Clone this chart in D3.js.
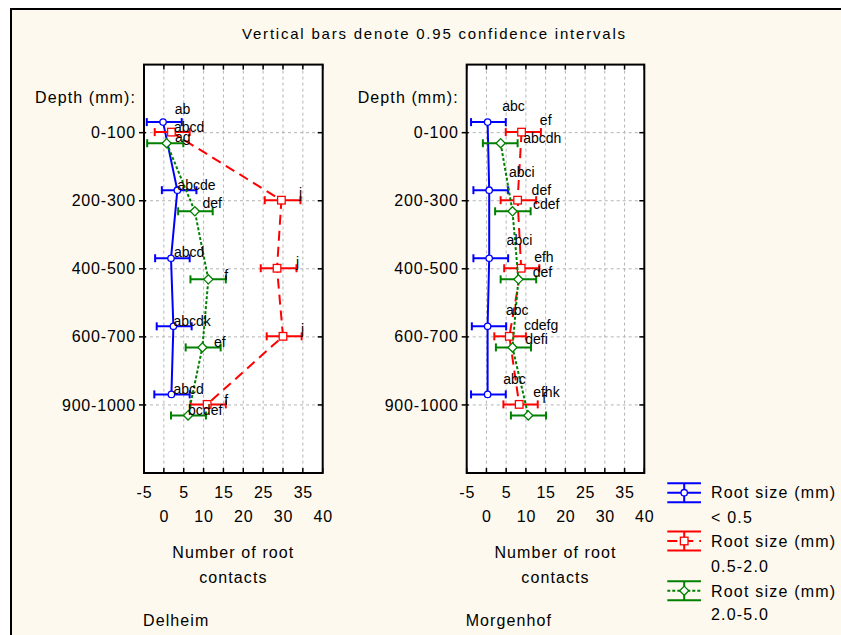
<!DOCTYPE html>
<html><head><meta charset="utf-8">
<script src="https://cdn.jsdelivr.net/npm/d3@7/dist/d3.min.js"></script>
<style>
html,body{margin:0;padding:0;background:#ffffff;}
svg{display:block;}
text{font-family:"Liberation Sans",Arial,sans-serif;fill:#000;}
</style></head>
<body>
<svg id="chart" width="841" height="635"></svg>
<script>
// ---------- data ----------
const titleText = "Vertical bars denote 0.95 confidence intervals";
const depths = ["0-100", "200-300", "400-500", "600-700", "900-1000"];
const depthTitle = "Depth (mm):";
const xTicks = [-5, 0, 5, 10, 15, 20, 25, 30, 35, 40];
const xTitle = ["Number of root", "contacts"];
const sites = ["Delheim", "Morgenhof"];
const legendLine1 = ["Root size (mm)", "Root size (mm)", "Root size (mm)"];
const legendLine2 = ["< 0.5", "0.5-2.0", "2.0-5.0"];

// Delheim
const delBlueMean  = [-0.2, 3.4, 1.8, 2.4, 1.9];
const delBlueLo    = [-4.3, -0.5, -2.2, -1.8, -2.4];
const delBlueHi    = [4.5, 8.2, 6.5, 7.0, 6.5];
const delRedMean   = [1.9, 29.6, 28.5, 30.0, 10.9];
const delRedLo     = [-2.3, 25.4, 24.4, 25.9, 6.7];
const delRedHi     = [6.5, 34.4, 33.4, 34.7, 15.6];
const delGreenMean = [0.7, 7.8, 11.2, 9.7, 6.1];
const delGreenLo   = [-4.2, 3.6, 6.7, 5.5, 1.8];
const delGreenHi   = [4.9, 12.3, 15.6, 14.3, 10.6];
const delBlueLbl   = ["ab", "abcde", "abcd", "abcdk", "abcd"];
const delRedLbl    = ["abcd", "j", "j", "j", "f"];
const delGreenLbl  = ["ag", "def", "f", "ef", "bcdef"];

// Morgenhof
const morBlueMean  = [0.3, 0.7, 0.7, 0.3, 0.3];
const morBlueLo    = [-3.9, -3.3, -3.3, -3.7, -3.9];
const morBlueHi    = [4.9, 5.5, 5.5, 5.0, 4.9];
const morRedMean   = [8.9, 7.9, 8.8, 5.8, 8.3];
const morRedLo     = [4.9, 3.6, 4.5, 2.0, 4.3];
const morRedHi     = [13.8, 12.6, 13.4, 10.0, 13.0];
const morGreenMean = [3.6, 6.6, 8.1, 6.6, 10.6];
const morGreenLo   = [-0.9, 2.2, 3.6, 2.4, 6.2];
const morGreenHi   = [7.9, 11.2, 12.6, 11.3, 15.1];
const morBlueLbl   = ["abc", "abci", "abci", "abc", "abc"];
const morRedLbl    = ["ef", "def", "efh", "cdefg", "efhk"];
const morGreenLbl  = ["abcdh", "cdef", "def", "defi", "f"];

// ---------- layout (pixels, styles) ----------
const colors = ["#0000ff", "#ff0000", "#008000"];
const dashes = [null, "10,6", "3,2"];
const labelOffsets = [
  [ [[11.7,-8],[0,0],[3,-1],[0,0],[2,0]],
    [[2.6,0],[17.6,-2],[19,-1],[18,-2],[17,1]],
    [[8.3,-1],[7.7,-3],[16,1],[11.6,0],[0,0]] ],
  [ [[14.6,-11.6],[19.7,-12.7],[17.4,-13.3],[18.3,-11],[15.6,-10]],
    [[18.3,-7.3],[14,-5],[13,-6.6],[14.7,-6.7],[14,-7.3]],
    [[22.6,0],[20.4,-2.7],[14.4,-2.6],[12.7,-3.3],[14,-12]] ]
];
const panelsX = [[144, 322.7], [466.7, 644.3]];
const plotTop = 64.6, plotBottom = 473;

const panelData = [
  [ {mean: delBlueMean, lo: delBlueLo, hi: delBlueHi, lbl: delBlueLbl},
    {mean: delRedMean, lo: delRedLo, hi: delRedHi, lbl: delRedLbl},
    {mean: delGreenMean, lo: delGreenLo, hi: delGreenHi, lbl: delGreenLbl} ],
  [ {mean: morBlueMean, lo: morBlueLo, hi: morBlueHi, lbl: morBlueLbl},
    {mean: morRedMean, lo: morRedLo, hi: morRedHi, lbl: morRedLbl},
    {mean: morGreenMean, lo: morGreenLo, hi: morGreenHi, lbl: morGreenLbl} ]
];

const svg = d3.select("#chart");
svg.append("rect").attr("x", 11).attr("y", 9).attr("width", 840).attr("height", 640)
  .attr("fill", "#fdf9ee").attr("stroke", "#000").attr("stroke-width", 2);

svg.append("text").attr("x", 433.5).attr("y", 38.5).attr("text-anchor", "middle")
  .attr("font-size", 15).attr("textLength", 383).attr("lengthAdjust", "spacing")
  .text(titleText);

const y = d3.scaleLinear().domain([-1, 5]).range([plotTop, plotBottom]);
const seriesShift = [-0.155, -0.008, 0.155];

function drawMarker(g, s, cx, cy) {
  if (s === 0) {
    g.append("circle").attr("cx", cx).attr("cy", cy).attr("r", 3.2)
      .attr("fill", "#fff").attr("stroke", colors[s]).attr("stroke-width", 1.3);
  } else if (s === 1) {
    g.append("rect").attr("x", cx - 3.8).attr("y", cy - 3.8).attr("width", 7.6).attr("height", 7.6)
      .attr("fill", "#fff").attr("stroke", colors[s]).attr("stroke-width", 1.3);
  } else {
    const r = 4.6;
    g.append("path").attr("d", `M${cx},${cy - r}L${cx + r},${cy}L${cx},${cy + r}L${cx - r},${cy}Z`)
      .attr("fill", "#fff").attr("stroke", colors[s]).attr("stroke-width", 1.3);
  }
}

panelData.forEach((series, p) => {
  const [x0, x1] = panelsX[p];
  const x = d3.scaleLinear().domain([-5, 40]).range([x0, x1]);
  const g = svg.append("g");

  g.append("rect").attr("x", x0).attr("y", plotTop).attr("width", x1 - x0).attr("height", plotBottom - plotTop)
    .attr("fill", "#fff");

  // grid
  const grid = g.append("g").attr("stroke", "#b4b4b4").attr("stroke-width", 1).attr("stroke-dasharray", "3,3");
  xTicks.filter(t => t > -5 && t < 40).forEach(t => {
    grid.append("line").attr("x1", x(t)).attr("x2", x(t)).attr("y1", plotTop).attr("y2", plotBottom);
  });
  depths.forEach((d, i) => {
    grid.append("line").attr("x1", x0).attr("x2", x1).attr("y1", y(i)).attr("y2", y(i));
  });

  // ticks
  const tk = g.append("g").attr("stroke", "#000").attr("stroke-width", 1.5);
  xTicks.forEach(t => {
    tk.append("line").attr("x1", x(t)).attr("x2", x(t)).attr("y1", plotTop).attr("y2", plotTop + 5);
    tk.append("line").attr("x1", x(t)).attr("x2", x(t)).attr("y1", plotBottom - 5).attr("y2", plotBottom);
  });
  depths.forEach((d, i) => {
    tk.append("line").attr("x1", x0 - 5).attr("x2", x0 + 2).attr("y1", y(i)).attr("y2", y(i));
    tk.append("line").attr("x1", x1 - 5).attr("x2", x1).attr("y1", y(i)).attr("y2", y(i));
  });

  // tick labels
  xTicks.forEach((t, k) => {
    g.append("text").attr("x", x(t) + 0.5).attr("y", k % 2 === 0 ? 497.5 : 521.5)
      .attr("text-anchor", "middle").attr("font-size", 16).attr("letter-spacing", 0.8).text(t);
  });
  depths.forEach((d, i) => {
    g.append("text").attr("x", x0 - 8).attr("y", y(i) + 5.6).attr("text-anchor", "end")
      .attr("font-size", 16).attr("letter-spacing", 0.8).text(d);
  });
  g.append("text").attr("x", x0 - 8).attr("y", y(-0.5) + 4.2).attr("text-anchor", "end")
    .attr("font-size", 16).attr("letter-spacing", 1.1).text(depthTitle);

  // axis title & site
  const cx = (x0 + x1) / 2;
  g.append("text").attr("x", cx).attr("y", 558).attr("text-anchor", "middle")
    .attr("font-size", 16).attr("letter-spacing", 1.1).text(xTitle[0]);
  g.append("text").attr("x", cx).attr("y", 583).attr("text-anchor", "middle")
    .attr("font-size", 16).attr("letter-spacing", 1.1).text(xTitle[1]);
  g.append("text").attr("x", x0 - 1).attr("y", 626).attr("font-size", 16).attr("letter-spacing", 1.1)
    .text(sites[p]);

  // series
  series.forEach((sd, s) => {
    const pts = sd.mean.map((m, i) => [x(m), y(i + seriesShift[s])]);
    const sg = g.append("g");
    sg.append("path").attr("d", d3.line()(pts)).attr("fill", "none")
      .attr("stroke", colors[s]).attr("stroke-width", 2)
      .attr("stroke-dasharray", dashes[s]);
    sd.mean.forEach((m, i) => {
      const yy = y(i + seriesShift[s]);
      sg.append("line").attr("x1", x(sd.lo[i])).attr("x2", x(sd.hi[i])).attr("y1", yy).attr("y2", yy)
        .attr("stroke", colors[s]).attr("stroke-width", 2);
      [sd.lo[i], sd.hi[i]].forEach(v => {
        sg.append("line").attr("x1", x(v)).attr("x2", x(v)).attr("y1", yy - 4).attr("y2", yy + 4)
          .attr("stroke", colors[s]).attr("stroke-width", 2);
      });
    });
    sd.mean.forEach((m, i) => drawMarker(sg, s, x(m), y(i + seriesShift[s])));
  });
  series.forEach((sd, s) => {
    sd.mean.forEach((m, i) => {
      const off = labelOffsets[p][s][i];
      g.append("text").attr("x", x(m) + off[0]).attr("y", y(i + seriesShift[s]) + off[1])
        .attr("font-size", 14).text(sd.lbl[i]);
    });
  });

  // frame
  g.append("rect").attr("x", x0).attr("y", plotTop).attr("width", x1 - x0).attr("height", plotBottom - plotTop)
    .attr("fill", "none").attr("stroke", "#000").attr("stroke-width", 2);
});

// legend
const legCenters = [492.7, 541, 590.7];
const legBase1 = [498.3, 547.3, 596.7];
const legBase2 = [523.3, 571.7, 620];
legendLine1.forEach((t, s) => {
  const lg = svg.append("g");
  const cy = legCenters[s], lx0 = 667.3, lx1 = 701, lcx = 684.2;
  lg.append("line").attr("x1", lx0).attr("x2", lx1).attr("y1", cy - 9.5).attr("y2", cy - 9.5)
    .attr("stroke", colors[s]).attr("stroke-width", 2);
  lg.append("line").attr("x1", lx0).attr("x2", lx1).attr("y1", cy + 9.5).attr("y2", cy + 9.5)
    .attr("stroke", colors[s]).attr("stroke-width", 2);
  lg.append("line").attr("x1", lcx).attr("x2", lcx).attr("y1", cy - 9.5).attr("y2", cy + 9.5)
    .attr("stroke", colors[s]).attr("stroke-width", 2);
  lg.append("line").attr("x1", lx0).attr("x2", lx1).attr("y1", cy).attr("y2", cy)
    .attr("stroke", colors[s]).attr("stroke-width", 2).attr("stroke-dasharray", dashes[s]);
  drawMarker(lg, s, lcx, cy);
  lg.append("text").attr("x", 711).attr("y", legBase1[s]).attr("font-size", 16).attr("letter-spacing", 1.2).text(t);
  lg.append("text").attr("x", 711).attr("y", legBase2[s]).attr("font-size", 16).attr("letter-spacing", 1.2).text(legendLine2[s]);
});
</script>
</body></html>
